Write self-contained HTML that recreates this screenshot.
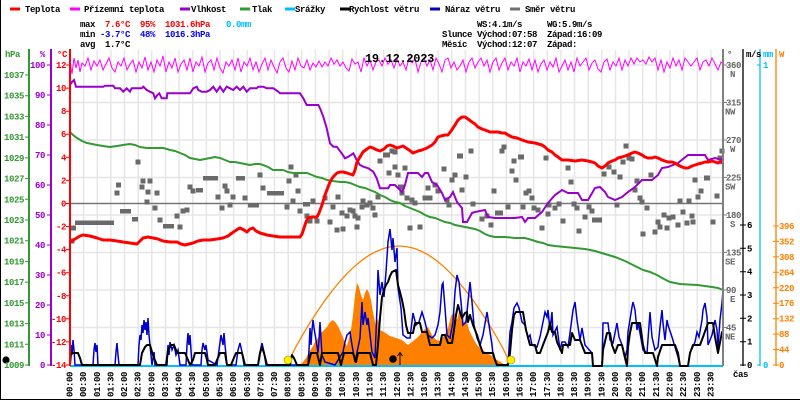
<!DOCTYPE html>
<html><head><meta charset="utf-8"><style>
html,body{margin:0;padding:0;background:#fff;}
svg{display:block;}
text{font-family:"Liberation Mono","DejaVu Sans Mono",monospace;font-size:9px;letter-spacing:-0.4px;font-weight:bold;}
</style></head><body>
<svg width="800" height="400" viewBox="0 0 800 400" xmlns="http://www.w3.org/2000/svg">
<rect x="0" y="0" width="800" height="400" fill="#fff"/>
<line x1="0.5" y1="0" x2="0.5" y2="400" stroke="#000" stroke-width="1"/>
<line x1="0" y1="399.5" x2="800" y2="399.5" stroke="#000" stroke-width="1"/>

<!-- legend -->
<g stroke-width="3">
<line x1="10" y1="9" x2="20" y2="9" stroke="#ff0000"/>
<line x1="70" y1="9" x2="80" y2="9" stroke="#ff00ff"/>
<line x1="180" y1="9" x2="190" y2="9" stroke="#9900cc"/>
<line x1="240" y1="9" x2="250" y2="9" stroke="#339933"/>
<line x1="285" y1="9" x2="295" y2="9" stroke="#00bfff"/>
<line x1="340" y1="9" x2="350" y2="9" stroke="#000"/>
<line x1="430" y1="9" x2="440" y2="9" stroke="#0000cc"/>
<line x1="510" y1="9" x2="520" y2="9" stroke="#707070"/>
</g>
<g fill="#000">
<text x="25" y="12">Teplota</text>
<text x="84" y="12">Přízemní teplota</text>
<text x="191" y="12">Vlhkost</text>
<text x="252" y="12">Tlak</text>
<text x="295" y="12">Srážky</text>
<text x="349" y="12">Rychlost větru</text>
<text x="445" y="12">Náraz větru</text>
<text x="525" y="12">Směr větru</text>
</g>

<!-- stats -->
<text x="80" y="27">max</text>
<text x="105" y="27" fill="#ff0000">7.6°C</text>
<text x="140" y="27" fill="#ff0000">95%</text>
<text x="165" y="27" fill="#ff0000">1031.6hPa</text>
<text x="226" y="27" fill="#00bfff">0.0mm</text>
<text x="80" y="37">min</text>
<text x="100" y="37" fill="#0000ff">-3.7°C</text>
<text x="140" y="37" fill="#0000ff">48%</text>
<text x="165" y="37" fill="#0000ff">1016.3hPa</text>
<text x="80" y="47">avg</text>
<text x="105" y="47">1.7°C</text>

<text x="477" y="27">WS:4.1m/s</text>
<text x="547" y="27">WG:5.9m/s</text>
<text x="442" y="37">Slunce</text>
<text x="477" y="37">Východ:07:58</text>
<text x="547" y="37">Západ:16:09</text>
<text x="442" y="47">Měsíc</text>
<text x="477" y="47">Východ:12:07</text>
<text x="547" y="47">Západ:</text>

<!-- grid -->
<path fill="none" stroke="#e6e6e6" stroke-width="1.5" d="M83.6 50V365M97.3 50V365M110.9 50V365M124.5 50V365M138.2 50V365M151.8 50V365M165.5 50V365M179.1 50V365M192.7 50V365M206.4 50V365M220 50V365M233.6 50V365M247.3 50V365M260.9 50V365M274.5 50V365M288.2 50V365M301.8 50V365M315.5 50V365M329.1 50V365M342.7 50V365M356.4 50V365M370 50V365M383.6 50V365M397.3 50V365M410.9 50V365M424.5 50V365M438.2 50V365M451.8 50V365M465.5 50V365M479.1 50V365M492.7 50V365M506.4 50V365M520 50V365M533.6 50V365M547.3 50V365M560.9 50V365M574.5 50V365M588.2 50V365M601.8 50V365M615.5 50V365M629.1 50V365M642.7 50V365M656.4 50V365M670 50V365M683.6 50V365M697.3 50V365M710.9 50V365M70 65H723M70 102.5H723M70 140H723M70 177.5H723M70 215H723M70 252.5H723M70 290H723M70 327.5H723"/>
<line x1="70" y1="203.5" x2="723" y2="203.5" stroke="#777" stroke-width="1.5"/>

<!-- solar fill -->
<polygon fill="#ff8000" points="300,365 303,362 306,358 309,352 312,348 315,342 318,338 321,333 324,330 327,327 330,322 333,320 336,323 339,328 342,335 345,342 347,346 349,338 351,330 353,315 355,295 357,283 359,287 361,295 363,300 365,293 367,289 369,293 371,300 373,312 375,322 376,328 378,318 380,330 384,332 390,336 396,338 402,340 408,345 412,342 418,337 424,330 428,327 432,335 436,340 440,341 444,336 448,328 451,316 454,312 457,320 460,308 463,325 466,318 469,330 473,338 477,345 482,350 487,353 492,356 497,360 502,363 505,365"/>
<polyline fill="none" stroke="#ff8000" stroke-width="1.3" points="288,363 295.4,347.7 302.8,334.6 310.2,322.3 317.6,311 325,300.3 332.4,290.5 339.8,281.5 347.2,273.4 354.6,266.3 362,260.2 369.4,255.1 376.8,251.2 384.2,248.3 391.6,246.6 399,246 406.4,246.6 413.8,248.3 421.2,251.2 428.6,255.1 436,260.2 443.4,266.3 450.8,273.4 458.2,281.5 465.6,290.5 473,300.3 480.4,311 487.8,322.3 495.2,334.6 502.6,347.7 510,363"/>

<!-- wind direction squares -->
<g fill="#6a6a6a">
<rect x="69.5" y="238.5" width="5" height="5"/><rect x="71" y="225.5" width="5" height="5"/>
<rect x="75" y="220.5" width="39" height="4.5"/>
<rect x="114.5" y="190.5" width="5" height="5"/><rect x="116" y="182.5" width="5" height="5"/>
<rect x="120" y="209" width="11" height="4.5"/><rect x="132" y="217" width="6" height="4.5"/>
<rect x="135.5" y="159.5" width="5" height="5"/><rect x="139.5" y="184.5" width="5" height="5"/><rect x="140.5" y="178.5" width="5" height="5"/>
<rect x="144.5" y="199.5" width="5" height="5"/><rect x="145.5" y="189.5" width="5" height="5"/><rect x="147.5" y="178.5" width="5" height="5"/>
<rect x="152.5" y="205.5" width="5" height="5"/><rect x="154.5" y="190.5" width="5" height="5"/><rect x="157.5" y="217.5" width="5" height="5"/>
<rect x="163" y="224" width="11" height="4.5"/>
<rect x="174.5" y="213.5" width="5" height="5"/><rect x="177.5" y="224.5" width="5" height="5"/><rect x="180.5" y="208.5" width="5" height="5"/><rect x="184.5" y="207.5" width="5" height="5"/>
<rect x="187.5" y="184.5" width="5" height="5"/><rect x="190.5" y="188.5" width="5" height="5"/>
<rect x="196" y="188" width="7" height="4.5"/><rect x="203" y="176" width="15" height="4.5"/>
<rect x="215.5" y="194.5" width="5" height="5"/><rect x="219.5" y="205.5" width="5" height="5"/><rect x="222.5" y="183.5" width="5" height="5"/><rect x="224.5" y="188.5" width="5" height="5"/>
<rect x="227.5" y="202.5" width="5" height="5"/><rect x="230.5" y="194.5" width="5" height="5"/>
<rect x="236" y="176" width="9" height="4.5"/><rect x="242.5" y="195.5" width="5" height="5"/>
<rect x="248" y="203" width="11" height="4.5"/>
<rect x="257.5" y="172.5" width="5" height="5"/><rect x="260.5" y="185.5" width="5" height="5"/>
<rect x="267" y="191" width="17" height="4.5"/>
<rect x="284.5" y="204.5" width="5" height="5"/><rect x="286.5" y="178.5" width="5" height="5"/><rect x="288.5" y="164.5" width="5" height="5"/><rect x="290.5" y="198.5" width="5" height="5"/>
<rect x="293.5" y="172.5" width="5" height="5"/><rect x="295.5" y="188.5" width="5" height="5"/><rect x="297.5" y="208.5" width="5" height="5"/>
<rect x="303" y="202" width="7" height="4.5"/><rect x="304.5" y="213.5" width="5" height="5"/><rect x="307.5" y="218.5" width="5" height="5"/>
<rect x="310.5" y="198.5" width="5" height="5"/><rect x="314.5" y="218.5" width="5" height="5"/><rect x="322.5" y="195.5" width="5" height="5"/>
<rect x="327.5" y="219.5" width="5" height="5"/><rect x="330.5" y="204.5" width="5" height="5"/><rect x="334.5" y="227.5" width="5" height="5"/>
<rect x="335.5" y="194.5" width="5" height="5"/><rect x="339.5" y="210.5" width="5" height="5"/><rect x="340.5" y="226.5" width="5" height="5"/>
<rect x="344.5" y="213.5" width="5" height="5"/><rect x="347.5" y="207.5" width="5" height="5"/><rect x="350.5" y="208.5" width="5" height="5"/>
<rect x="352.5" y="213.5" width="5" height="5"/><rect x="354.5" y="224.5" width="5" height="5"/><rect x="355.5" y="215.5" width="5" height="5"/>
<rect x="359.5" y="204.5" width="5" height="5"/><rect x="360.5" y="198.5" width="5" height="5"/><rect x="364.5" y="202.5" width="5" height="5"/>
<rect x="367.5" y="200.5" width="5" height="5"/><rect x="370.5" y="205.5" width="5" height="5"/><rect x="372.5" y="212.5" width="5" height="5"/>
<rect x="375.5" y="194.5" width="5" height="5"/><rect x="377.5" y="158.5" width="5" height="5"/>
<rect x="383" y="152.5" width="7" height="5"/><rect x="386.5" y="170.5" width="5" height="5"/><rect x="389.5" y="148.5" width="5" height="5"/><rect x="392.5" y="149.5" width="5" height="5"/>
<rect x="392.5" y="164.5" width="5" height="5"/><rect x="395.5" y="172.5" width="5" height="5"/>
<rect x="398" y="184.5" width="7" height="5"/><rect x="402.5" y="165.5" width="5" height="5"/><rect x="399.5" y="190.5" width="5" height="5"/>
<rect x="404.5" y="195.5" width="5" height="5"/><rect x="407.5" y="225.5" width="5" height="5"/><rect x="409.5" y="197.5" width="5" height="5"/>
<rect x="412.5" y="200.5" width="5" height="5"/><rect x="417.5" y="224.5" width="5" height="5"/><rect x="422.5" y="195.5" width="5" height="5"/>
<rect x="425.5" y="185.5" width="5" height="5"/><rect x="427.5" y="195.5" width="5" height="5"/><rect x="432.5" y="182.5" width="5" height="5"/>
<rect x="435.5" y="188.5" width="5" height="5"/><rect x="441.5" y="166.5" width="5" height="5"/><rect x="444.5" y="197.5" width="5" height="5"/>
<rect x="446.5" y="202.5" width="5" height="5"/><rect x="449.5" y="177.5" width="5" height="5"/><rect x="452.5" y="172.5" width="5" height="5"/>
<rect x="457" y="153.5" width="6" height="5"/><rect x="459.5" y="187.5" width="5" height="5"/><rect x="463.5" y="174.5" width="5" height="5"/>
<rect x="468.5" y="148.5" width="5" height="5"/><rect x="470.5" y="201.5" width="5" height="5"/><rect x="479.5" y="216.5" width="5" height="5"/>
<rect x="484.5" y="213.5" width="5" height="5"/><rect x="488.5" y="222.5" width="5" height="5"/><rect x="491.5" y="188.5" width="5" height="5"/>
<rect x="495" y="210.5" width="8" height="5"/><rect x="499.5" y="148.5" width="5" height="5"/><rect x="501.5" y="144.5" width="5" height="5"/>
<rect x="505.5" y="204.5" width="5" height="5"/><rect x="509.5" y="168.5" width="5" height="5"/><rect x="511.5" y="158.5" width="5" height="5"/>
<rect x="513.5" y="177.5" width="5" height="5"/><rect x="518" y="154.5" width="6" height="5"/><rect x="520.5" y="204.5" width="5" height="5"/>
<rect x="523.5" y="190.5" width="5" height="5"/><rect x="526.5" y="188.5" width="5" height="5"/><rect x="529.5" y="195.5" width="5" height="5"/>
<rect x="531.5" y="205.5" width="5" height="5"/><rect x="535.5" y="207.5" width="5" height="5"/><rect x="539.5" y="225.5" width="5" height="5"/>
<rect x="543.5" y="155.5" width="5" height="5"/><rect x="545.5" y="211.5" width="5" height="5"/><rect x="546.5" y="202.5" width="5" height="5"/>
<rect x="552.5" y="205.5" width="5" height="5"/><rect x="556.5" y="201.5" width="5" height="5"/><rect x="560.5" y="218.5" width="5" height="5"/>
<rect x="565.5" y="165.5" width="5" height="5"/><rect x="568.5" y="179.5" width="5" height="5"/><rect x="571.5" y="201.5" width="5" height="5"/>
<rect x="574.5" y="205.5" width="5" height="5"/><rect x="576.5" y="228.5" width="5" height="5"/><rect x="582.5" y="214.5" width="5" height="5"/>
<rect x="586.5" y="204.5" width="5" height="5"/><rect x="589.5" y="208.5" width="5" height="5"/><rect x="592" y="217.5" width="10" height="5"/>
<rect x="601.5" y="171.5" width="5" height="5"/><rect x="606.5" y="164.5" width="5" height="5"/><rect x="611.5" y="169.5" width="5" height="5"/>
<rect x="614.5" y="202.5" width="5" height="5"/><rect x="617.5" y="174.5" width="5" height="5"/><rect x="620.5" y="159.5" width="5" height="5"/>
<rect x="623.5" y="143.5" width="5" height="5"/><rect x="626.5" y="155.5" width="5" height="5"/><rect x="629.5" y="156.5" width="5" height="5"/>
<rect x="632.5" y="187.5" width="5" height="5"/><rect x="634.5" y="178.5" width="5" height="5"/><rect x="637.5" y="195.5" width="5" height="5"/>
<rect x="639.5" y="199.5" width="5" height="5"/><rect x="640.5" y="231.5" width="5" height="5"/><rect x="644.5" y="205.5" width="5" height="5"/>
<rect x="648.5" y="172.5" width="5" height="5"/><rect x="652.5" y="229.5" width="5" height="5"/><rect x="655.5" y="219.5" width="5" height="5"/>
<rect x="657.5" y="224.5" width="5" height="5"/><rect x="661.5" y="212.5" width="5" height="5"/><rect x="664.5" y="225.5" width="5" height="5"/>
<rect x="666.5" y="215.5" width="5" height="5"/><rect x="670.5" y="214.5" width="5" height="5"/><rect x="675.5" y="222.5" width="5" height="5"/>
<rect x="677.5" y="198.5" width="5" height="5"/><rect x="680.5" y="209.5" width="5" height="5"/><rect x="684.5" y="220.5" width="5" height="5"/>
<rect x="686.5" y="198.5" width="5" height="5"/><rect x="689.5" y="213.5" width="5" height="5"/><rect x="690.5" y="219.5" width="5" height="5"/>
<rect x="692.5" y="177.5" width="5" height="5"/><rect x="695.5" y="194.5" width="5" height="5"/><rect x="698.5" y="188.5" width="5" height="5"/>
<rect x="704" y="175.5" width="6" height="5"/><rect x="710.5" y="219.5" width="5" height="5"/><rect x="714.5" y="193.5" width="5" height="5"/>
<rect x="717.5" y="155.5" width="5" height="5"/><rect x="719.5" y="148.5" width="5" height="5"/>
</g>

<!-- pressure -->
<polyline fill="none" stroke="#339933" stroke-width="2" points="70,132 73,135 77,138 82,141 87,143 92,144 97,145 103,146 110,147 117,146 123,145 130,144 135,145 140,147 147,148 153,148 158,148 163,148 167,149 170,150 175,151 180,153 185,155 190,158 195,159 200,160 205,159 210,158 215,157 220,158 225,160 230,162 235,162 240,163 245,164 250,165 255,164 260,164 263,165 268,167 273,170 278,170 283,170 288,172 293,173 300,173 307,173 312,175 317,177 322,178 327,180 333,181 340,182 345,182 350,183 355,185 360,187 365,188 370,190 375,192 380,195 385,197 390,200 395,202 400,203 405,206 410,208 415,210 420,212 425,215 430,217 435,218 440,220 445,222 450,223 455,225 460,226 465,227 470,228 475,229 480,231 485,234 490,236 495,237 505,237 515,238 525,238 532,240 538,242 543,243 548,245 555,246 565,247 575,248 585,249 595,251 605,254 615,257 625,261 635,266 643,270 650,272 657,275 664,279 670,282 680,284 697,285 705,286 712,287 718,288 723,290"/>

<!-- humidity -->
<polyline fill="none" stroke="#9900cc" stroke-width="2" points="70,85 72,82 74,80 76,86.7 103.3,86.7 105,85.7 113.3,85.7 115,88.3 120,88.3 123.3,91.7 126.7,88.3 130,91.7 131.7,88.3 141.7,88.3 143.3,86.7 146.7,90 150,91.7 153.3,93.3 155,98.3 157.3,95 159.3,93.3 161.7,98.3 166.7,98.3 167.3,93.3 170,93.3 190,93.3 193.3,88.3 196.7,86.7 198.3,90 201.7,91.7 206.7,91.7 210,90 213.3,86.7 216.7,91.7 220,86.7 223.3,91.7 226.7,86.7 230,88.3 233.3,90 236.7,86.7 240,90 243.3,86.7 246.7,91.7 250,88.3 256.7,88.3 258.3,86.7 263.3,86.7 266.7,88.3 273.3,88.3 278.3,91.7 280,93.3 300,93.3 303.3,98.3 306.7,105 318.3,105 320,108.3 323.3,116.7 326.7,128.3 330,143.3 333.3,146.7 336.7,146.7 341.7,153.3 345,158.3 348.3,156.7 353.3,153.3 356.7,160 360,165 363.3,166.7 368.3,168.3 373.3,171.7 376.7,178.3 380,188.3 388.3,188.3 390,185 395,185 398,188 402,192 405,185 408,173 418,173 422,177 425,173 428,173 432,182 437,185 442,193 445,200 450,197 453,192 457,202 462,208 463,222 467,222 472,213 475,212 485,210 488,217 495,218 508,218 515,218 522,217 525,222 528,218 535,218 542,212 548,203 555,195 562,190 568,193 578,193 582,200 588,200 595,188 600,187 605,192 608,197 615,200 622,197 628,192 635,187 642,180 652,180 658,175 662,168 668,167 678,163 688,155 695,155 705,155 708,160 715,158 722,160 723,158"/>

<!-- ground temperature -->
<polyline fill="none" stroke="#ff00ff" stroke-width="1" points="70,62 72,74 74,58 76,68 78,60 80,72 82,63 85,66 88,58 91,70 94,61 97,66 100,60 103,70 106,64 109,58 112,68 115,72 118,62 121,66 124,58 127,70 130,64 133,60 136,72 139,62 142,68 145,57 148,70 151,62 154,72 157,60 160,66 163,56 166,72 169,62 172,68 175,58 178,72 181,64 184,60 187,70 190,58 193,72 196,62 199,66 202,57 205,72 208,63 211,60 214,70 217,58 220,68 223,73 226,62 229,66 232,60 235,70 238,58 241,72 244,62 247,66 250,58 253,70 256,62 259,72 262,64 265,58 268,70 271,60 274,67 277,73 280,62 283,58 286,68 289,72 292,61 295,70 298,58 301,66 304,68 307,60 310,70 313,63 316,67 319,61 322,67 325,62 328,66 331,58 334,64 337,60 340,66 343,62 346,68 349,71 352,59 355,64 358,62 361,72 364,58 367,66 370,60 373,70 376,62 379,60 382,66 385,58 388,64 391,60 394,68 397,59 400,66 403,62 406,70 409,58 412,63 415,59 418,72 421,62 424,58 427,66 430,60 433,70 436,58 439,64 442,72 445,60 448,58 451,68 454,62 457,70 460,66 463,60 466,72 469,62 472,58 475,68 478,62 481,58 484,66 487,60 490,72 493,62 496,58 499,70 502,63 505,58 508,70 511,62 514,66 517,58 520,72 523,62 526,66 529,59 532,70 535,60 538,72 541,64 544,60 547,70 550,62 553,67 556,58 559,72 562,66 565,60 568,70 571,62 574,72 577,58 580,66 583,62 586,58 589,70 592,63 595,60 598,69 601,72 604,62 607,59 610,70 613,62 616,66 619,58 622,70 625,60 628,66 631,58 634,64 637,58 640,62 643,60 646,64 649,57 652,62 655,58 658,70 661,60 664,72 667,62 670,68 673,58 676,66 679,60 682,70 685,58 688,62 691,66 694,62 697,58 700,70 703,62 706,60 709,66 712,58 715,64 718,70 721,62 723,64"/>

<!-- temperature -->
<polyline fill="none" stroke="#ff0000" stroke-width="3" stroke-linejoin="round" points="70,242 75,239 80,236 83,235 90,236 97,238 103,240 110,240 117,241 123,242 130,243 137,244 140,241 143,238 148,237 153,238 158,239 163,241 170,242 177,242 181,244 185,245 189,244 193,243 198,241 203,240 210,240 217,239 223,238 228,236 232,233 235,231 238,229 240,228 244,230 247,232 250,229 253,228 256,231 260,233 267,235 273,236 280,237 290,237 300,237 302,234 304,228 306,222 308,218 312,217 317,217 319,213 322,205 325,195 328,187 330,182 333,177 337,173 340,172 343,172 347,173 350,174 353,175 355,170 357,162 360,157 363,152 367,149 370,147 373,148 377,150 380,151 384,149 387,146 390,145 393,146 397,148 400,147 403,146 406,148 409,150 413,153 418,151 422,150 427,148 432,145 435,142 438,137 441,136 445,135 448,135 451,131 455,125 458,120 462,117 465,117 468,119 472,122 475,124 478,127 482,129 485,130 490,132 495,132 498,132 502,133 505,133 508,135 512,137 517,138 522,140 528,142 535,143 542,145 545,147 548,150 552,152 555,155 558,157 562,160 568,160 575,161 582,160 588,161 592,162 595,163 598,166 602,168 605,166 608,163 612,161 615,160 618,158 622,157 625,156 628,155 632,153 635,152 638,153 642,155 645,157 648,158 652,158 655,157 658,158 662,160 665,161 668,162 672,162 675,163 678,165 682,167 685,168 688,168 692,166 695,165 698,164 702,163 705,162 708,162 712,161 715,162 718,163 720,162 723,163"/>

<!-- precipitation baseline -->
<line x1="70" y1="366" x2="723" y2="366" stroke="#00bfff" stroke-width="2"/>

<!-- gusts -->
<polyline fill="none" stroke="#0000cc" stroke-width="1.5" points="70,365 71,345 72,355 73,340 74,350 75,365 93,365 94,350 95,343 96,352 97,345 98,365 115,365 116,352 117,343 118,355 119,365 138,365 139,345 140,335 141,340 142,325 143,333 144,320 145,330 146,322 147,335 148,318 149,335 150,345 152,365 154,352 155,365 167,365 168,345 169,355 170,342 172,350 174,345 176,355 178,350 180,365 186,365 187,345 188,333 189,345 190,335 191,350 192,365 201,365 202,350 203,343 205,350 206,345 208,360 217,365 219,350 221,335 223,345 224,333 225,345 227,365 236,365 238,350 240,343 242,352 244,365 258,365 260,352 262,343 264,352 266,365 308,365 309,350 310,328 311,345 312,330 313,320 314,328 316,340 318,353 319,340 320,322 322,355 325,362 335,365 343,352 345,342 347,335 350,332 352,345 355,362 360,338 362,302 363,325 365,312 367,325 368,318 370,335 372,352 375,358 377,308 378,270 380,295 382,282 384,297 386,272 388,242 390,229 392,250 393,238 395,262 397,248 398,288 401,308 403,335 407,338 410,338 413,313 416,325 419,322 422,312 425,322 428,335 432,338 435,335 438,325 440,312 442,285 443,283 445,308 447,335 450,338 453,322 455,292 457,275 459,282 461,302 463,325 466,322 468,302 470,282 472,302 474,325 477,338 480,345 483,335 487,312 489,325 492,345 493,355 497,365 508,365 510,332 512,322 514,308 517,303 519,308 522,322 525,325 528,338 530,335 532,345 537,347 540,337 545,312 547,317 548,310 550,330 552,312 553,335 557,327 560,350 562,342 565,342 568,347 570,333 573,310 575,302 577,320 580,340 582,328 585,345 592,353 593,366 602,366 603,323 608,323 610,340 613,343 617,323 619,337 622,345 625,357 627,350 628,332 632,307 633,302 635,310 637,330 638,323 640,333 643,350 647,353 650,312 652,337 655,350 658,347 660,327 662,310 663,323 665,340 667,320 668,325 672,337 675,347 678,357 680,366 688,366 690,353 695,342 697,332 699,337 702,320 703,310 705,303 707,317 708,345 712,335 715,320 717,330 718,347 720,320 722,303 723,290"/>

<!-- wind speed -->
<polyline fill="none" stroke="#000" stroke-width="2" stroke-linejoin="round" points="70,365 71,353 78,353 80,358 82,365 140,365 142,353 145,347 147,345 150,345 152,352 154,358 157,365 166,365 168,350 171,345 174,345 176,350 178,353 185,353 188,360 190,365 193,360 195,353 205,353 207,360 208,365 215,365 217,360 220,353 225,353 227,365 231,365 233,360 236,353 242,353 245,365 258,365 260,353 262,347 264,353 267,365 290,365 292,355 294,358 297,365 308,365 311,353 317,353 320,365 322,353 338,353 341,365 344,353 353,353 356,362 358,353 370,353 373,365 376,365 378,345 380,318 382,297 384,290 386,285 388,282 390,276 392,272 396,270 398,285 400,292 402,300 404,310 406,325 408,333 413,333 415,323 420,323 422,332 427,332 430,345 440,345 442,335 445,335 448,343 452,343 454,330 456,315 458,305 460,312 462,318 465,313 467,312 468,322 470,315 473,325 477,335 480,345 483,353 493,353 495,360 497,365 508,365 510,353 512,330 514,315 516,312 523,312 526,330 530,345 535,345 537,353 540,353 543,345 548,332 550,323 552,332 555,332 557,342 562,353 563,345 570,345 572,333 575,340 580,340 585,353 592,353 593,366 602,366 603,350 607,333 610,333 612,345 615,353 618,345 622,345 625,358 627,366 628,347 630,333 632,323 640,323 643,345 645,353 653,353 657,366 658,357 662,345 675,345 678,353 680,366 688,366 690,353 693,345 700,345 703,337 708,323 713,323 715,337 718,353 722,332 723,332"/>

<!-- markers -->
<circle cx="288" cy="360" r="4" fill="#ffee00" stroke="#8a8a00" stroke-width="0.6"/>
<circle cx="511" cy="360" r="4" fill="#ffee00" stroke="#8a8a00" stroke-width="0.6"/>
<circle cx="393" cy="359" r="3.8" fill="#000"/>
<path d="M400 365V353M397.5 356L400 352.5L402.5 356" fill="none" stroke="#000" stroke-width="1"/>
<circle cx="6" cy="360" r="3.6" fill="#000"/>

<!-- axes -->
<line x1="29" y1="49" x2="29" y2="366" stroke="#339933" stroke-width="2"/>
<line x1="51" y1="49" x2="51" y2="366" stroke="#9900cc" stroke-width="2"/>
<line x1="70" y1="49" x2="70" y2="366" stroke="#ff0000" stroke-width="2"/>
<line x1="723" y1="49" x2="723" y2="366" stroke="#808080" stroke-width="2"/>
<line x1="743" y1="49" x2="743" y2="366" stroke="#000" stroke-width="1.3"/>
<line x1="760" y1="49" x2="760" y2="366" stroke="#00bfff" stroke-width="1.3"/>
<line x1="776" y1="49" x2="776" y2="366" stroke="#ff8000" stroke-width="1.3"/>

<!-- axis headers -->
<text x="5" y="57" fill="#339933">hPa</text>
<text x="40" y="57" fill="#9900cc">%</text>
<text x="57" y="57" fill="#ff0000">°C</text>
<text x="727" y="57" fill="#555">°</text>
<text x="746" y="57" fill="#000">m/s</text>
<text x="763" y="57" fill="#00bfff">mm</text>
<text x="779" y="57" fill="#ff8000">W</text>

<!-- hPa ticks -->
<path stroke="#339933" stroke-width="1" d="M25 75H29M25 95.7H29M25 116.4H29M25 137.1H29M25 157.9H29M25 178.6H29M25 199.3H29M25 220H29M25 240.7H29M25 261.4H29M25 282.1H29M25 302.9H29M25 323.6H29M25 344.3H29M25 365H29"/>
<g fill="#339933" text-anchor="end">
<text x="24" y="78">1037</text><text x="24" y="98.7">1035</text><text x="24" y="119.4">1033</text><text x="24" y="140.1">1031</text><text x="24" y="160.9">1029</text><text x="24" y="181.6">1027</text><text x="24" y="202.3">1025</text><text x="24" y="223">1023</text><text x="24" y="243.7">1021</text><text x="24" y="264.4">1019</text><text x="24" y="285.1">1017</text><text x="24" y="305.9">1015</text><text x="24" y="326.6">1013</text><text x="24" y="347.3">1011</text><text x="24" y="368">1009</text>
</g>
<!-- % ticks -->
<path stroke="#9900cc" stroke-width="1" d="M47 65H51M47 95H51M47 125H51M47 155H51M47 185H51M47 215H51M47 245H51M47 275H51M47 305H51M47 335H51M47 365H51"/>
<g fill="#9900cc" text-anchor="end">
<text x="45" y="68">100</text><text x="45" y="98">90</text><text x="45" y="128">80</text><text x="45" y="158">70</text><text x="45" y="188">60</text><text x="45" y="218">50</text><text x="45" y="248">40</text><text x="45" y="278">30</text><text x="45" y="308">20</text><text x="45" y="338">10</text><text x="45" y="368">0</text>
</g>
<!-- °C ticks -->
<path stroke="#ff0000" stroke-width="1" d="M66 65H70M66 88.1H70M66 111.2H70M66 134.2H70M66 157.3H70M66 180.4H70M66 203.5H70M66 226.5H70M66 249.6H70M66 272.7H70M66 295.8H70M66 318.8H70M66 341.9H70M66 365H70"/>
<g fill="#ff0000" text-anchor="end">
<text x="66" y="68">12</text><text x="66" y="91.1">10</text><text x="66" y="114.2">8</text><text x="66" y="137.2">6</text><text x="66" y="160.3">4</text><text x="66" y="183.4">2</text><text x="66" y="206.5">0</text><text x="66" y="229.5">-2</text><text x="66" y="252.6">-4</text><text x="66" y="275.7">-6</text><text x="66" y="298.8">-8</text><text x="66" y="321.8">-10</text><text x="66" y="344.9">-12</text><text x="66" y="368">-14</text>
</g>

<!-- direction ticks -->
<path stroke="#808080" stroke-width="1" d="M723 65H727M723 102.5H727M723 140H727M723 177.5H727M723 215H727M723 252.5H727M723 290H727M723 327.5H727"/>
<g fill="#666">
<text x="726" y="68">360</text><text x="726" y="105.5">315</text><text x="726" y="143">270</text><text x="726" y="180.5">225</text><text x="726" y="218">180</text><text x="726" y="255.5">135</text><text x="726" y="293">90</text><text x="726" y="330.5">45</text>
</g>
<g fill="#666" text-anchor="end">
<text x="735" y="77">N</text><text x="735" y="114.5">NW</text><text x="735" y="152">W</text><text x="735" y="189.5">SW</text><text x="735" y="227">S</text><text x="735" y="264.5">SE</text><text x="735" y="302">E</text><text x="735" y="339.5">NE</text>
</g>
<!-- wind axis -->
<path stroke="#000" stroke-width="1" d="M740 365H746M740 341.7H746M740 318.3H746M740 295H746M740 271.7H746M740 248.3H746M740 225H746"/>
<g fill="#000">
<text x="747" y="368">0</text><text x="747" y="344.7">1</text><text x="747" y="321.3">2</text><text x="747" y="298">3</text><text x="747" y="274.7">4</text><text x="747" y="251.3">5</text><text x="747" y="228">6</text>
</g>
<!-- mm axis -->
<path stroke="#00bfff" stroke-width="1" d="M757 65H760M757 365H760"/>
<text x="763" y="68" fill="#00bfff">1</text>
<text x="763" y="368" fill="#00bfff">0</text>
<!-- W axis -->
<path stroke="#ff8000" stroke-width="1" d="M773 365H779M773 349.6H779M773 334.1H779M773 318.7H779M773 303.2H779M773 287.8H779M773 272.3H779M773 256.9H779M773 241.4H779M773 226H779"/>
<g fill="#ff8000">
<text x="779" y="368">0</text><text x="779" y="352.6">44</text><text x="779" y="337.1">88</text><text x="779" y="321.7">132</text><text x="779" y="306.2">176</text><text x="779" y="290.8">220</text><text x="779" y="275.3">264</text><text x="779" y="259.9">308</text><text x="779" y="244.4">352</text><text x="779" y="229">396</text>
</g>

<text x="733" y="377" fill="#000">čas</text>

<!-- title -->
<text x="365" y="62" fill="#000" style="font-size:12px;font-weight:bold;letter-spacing:-0.3px">19.12.2023</text>

<!-- x labels -->
<g fill="#000" text-anchor="end">
<text transform="translate(72.5,372) rotate(-90)">00:00</text>
<text transform="translate(86.1,372) rotate(-90)">00:30</text>
<text transform="translate(99.8,372) rotate(-90)">01:00</text>
<text transform="translate(113.4,372) rotate(-90)">01:30</text>
<text transform="translate(127,372) rotate(-90)">02:00</text>
<text transform="translate(140.7,372) rotate(-90)">02:30</text>
<text transform="translate(154.3,372) rotate(-90)">03:00</text>
<text transform="translate(168,372) rotate(-90)">03:30</text>
<text transform="translate(181.6,372) rotate(-90)">04:00</text>
<text transform="translate(195.2,372) rotate(-90)">04:30</text>
<text transform="translate(208.9,372) rotate(-90)">05:00</text>
<text transform="translate(222.5,372) rotate(-90)">05:30</text>
<text transform="translate(236.1,372) rotate(-90)">06:00</text>
<text transform="translate(249.8,372) rotate(-90)">06:30</text>
<text transform="translate(263.4,372) rotate(-90)">07:00</text>
<text transform="translate(277,372) rotate(-90)">07:30</text>
<text transform="translate(290.7,372) rotate(-90)">08:00</text>
<text transform="translate(304.3,372) rotate(-90)">08:30</text>
<text transform="translate(318,372) rotate(-90)">09:00</text>
<text transform="translate(331.6,372) rotate(-90)">09:30</text>
<text transform="translate(345.2,372) rotate(-90)">10:00</text>
<text transform="translate(358.9,372) rotate(-90)">10:30</text>
<text transform="translate(372.5,372) rotate(-90)">11:00</text>
<text transform="translate(386.1,372) rotate(-90)">11:30</text>
<text transform="translate(399.8,372) rotate(-90)">12:00</text>
<text transform="translate(413.4,372) rotate(-90)">12:30</text>
<text transform="translate(427,372) rotate(-90)">13:00</text>
<text transform="translate(440.7,372) rotate(-90)">13:30</text>
<text transform="translate(454.3,372) rotate(-90)">14:00</text>
<text transform="translate(468,372) rotate(-90)">14:30</text>
<text transform="translate(481.6,372) rotate(-90)">15:00</text>
<text transform="translate(495.2,372) rotate(-90)">15:30</text>
<text transform="translate(508.9,372) rotate(-90)">16:00</text>
<text transform="translate(522.5,372) rotate(-90)">16:30</text>
<text transform="translate(536.1,372) rotate(-90)">17:00</text>
<text transform="translate(549.8,372) rotate(-90)">17:30</text>
<text transform="translate(563.4,372) rotate(-90)">18:00</text>
<text transform="translate(577,372) rotate(-90)">18:30</text>
<text transform="translate(590.7,372) rotate(-90)">19:00</text>
<text transform="translate(604.3,372) rotate(-90)">19:30</text>
<text transform="translate(618,372) rotate(-90)">20:00</text>
<text transform="translate(631.6,372) rotate(-90)">20:30</text>
<text transform="translate(645.2,372) rotate(-90)">21:00</text>
<text transform="translate(658.9,372) rotate(-90)">21:30</text>
<text transform="translate(672.5,372) rotate(-90)">22:00</text>
<text transform="translate(686.1,372) rotate(-90)">22:30</text>
<text transform="translate(699.8,372) rotate(-90)">23:00</text>
<text transform="translate(713.4,372) rotate(-90)">23:30</text>
</g>
</svg>
</body></html>
